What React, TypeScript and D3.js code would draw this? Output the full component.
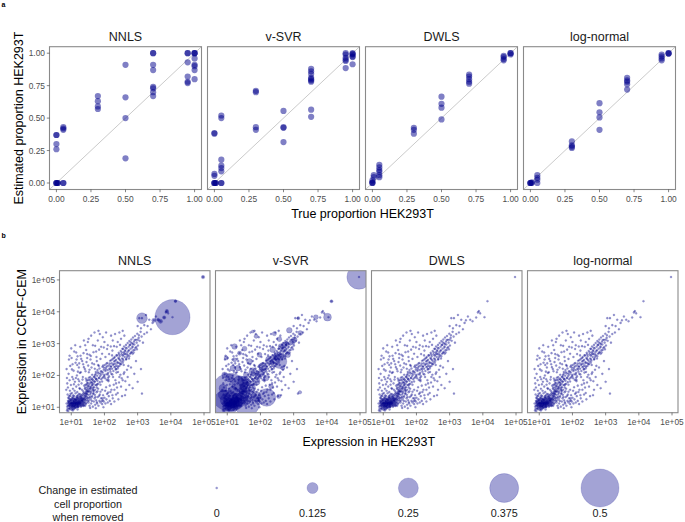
import React from "react";
import * as d3 from "d3";

const METHODS = ["NNLS", "v-SVR", "DWLS", "log-normal"];

// Panel a: [true proportion, estimated proportion]
const nnlsPts = [
  [0, 0.37], [0, 0.37], [0, 0.3], [0, 0.26], [0, 0], [0, 0], [0, 0], [0.01, 0], [0.01, 0],
  [0.05, 0.43], [0.05, 0.42], [0.05, 0.41], [0.05, 0], [0.05, 0],
  [0.3, 0.67], [0.3, 0.63], [0.3, 0.59], [0.3, 0.57],
  [0.5, 0.91], [0.5, 0.66], [0.5, 0.5], [0.5, 0.19],
  [0.7, 1], [0.7, 1], [0.7, 0.91], [0.7, 0.87], [0.7, 0.74], [0.7, 0.73], [0.7, 0.7], [0.7, 0.67],
  [0.95, 1], [0.95, 1], [0.95, 0.93], [0.95, 0.82], [0.95, 0.78], [0.95, 0.77],
  [1, 1], [1, 1], [1, 1], [1, 0.96], [1, 0.91], [1, 0.9], [1, 0.87], [1, 0.8],
];
const svrPts = [
  [0, 0.385], [0, 0.38], [0, 0.07], [0, 0.055], [0, 0], [0, 0], [0, 0], [0.01, 0], [0.01, 0],
  [0.05, 0.52], [0.05, 0.5], [0.05, 0.18], [0.05, 0.135], [0.05, 0.115], [0.05, 0.09], [0.05, 0], [0.05, 0],
  [0.3, 0.71], [0.3, 0.7], [0.3, 0.43], [0.3, 0.41],
  [0.5, 0.555], [0.5, 0.43], [0.5, 0.425], [0.5, 0.315],
  [0.7, 0.88], [0.7, 0.86], [0.7, 0.84], [0.7, 0.81], [0.7, 0.8], [0.7, 0.79], [0.7, 0.78], [0.7, 0.565], [0.7, 0.51],
  [0.95, 1], [0.95, 0.99], [0.95, 0.965], [0.95, 0.95], [0.95, 0.94], [0.95, 0.885],
  [1, 1], [1, 0.995], [1, 0.99], [1, 0.975], [1, 0.97], [1, 0.915],
];
const dwlsPts = [
  [0, 0.02], [0, 0.005], [0, 0], [0, 0], [0.01, 0.06], [0.01, 0.045],
  [0.05, 0.14], [0.05, 0.12], [0.05, 0.1], [0.05, 0.085], [0.05, 0.06], [0.05, 0.045],
  [0.3, 0.425], [0.3, 0.41], [0.3, 0.38],
  [0.5, 0.665], [0.5, 0.61], [0.5, 0.58], [0.5, 0.49],
  [0.7, 0.835], [0.7, 0.82], [0.7, 0.8], [0.7, 0.78], [0.7, 0.765],
  [0.95, 0.98], [0.95, 0.97], [0.95, 0.955], [0.95, 0.945],
  [1, 1], [1, 1], [1, 0.99],
];
const lognormPts = [
  [0, 0], [0, 0], [0, 0], [0.01, 0], [0.01, 0.005],
  [0.05, 0.06], [0.05, 0.04], [0.05, 0.025], [0.05, 0],
  [0.3, 0.32], [0.3, 0.29], [0.3, 0.28], [0.3, 0.27],
  [0.5, 0.615], [0.5, 0.545], [0.5, 0.505], [0.5, 0.41],
  [0.7, 0.81], [0.7, 0.79], [0.7, 0.78], [0.7, 0.76], [0.7, 0.72],
  [0.95, 0.99], [0.95, 0.975], [0.95, 0.96], [0.95, 0.945],
  [1, 1], [1, 1], [1, 0.995],
];
const propPanels = [nnlsPts, svrPts, dwlsPts, lognormPts];
const propTicks = [0, 0.25, 0.5, 0.75, 1];
const propTickLabels = ["0.00", "0.25", "0.50", "0.75", "1.00"];

// Panel b: genes, [log10 expression HEK293T, log10 expression CCRF-CEM]
const genesCore = [
  [0.88, 1.02], [0.92, 1.08], [0.95, 0.98], [0.97, 1.12], [1.0, 1.05], [1.02, 1.15], [1.04, 0.95], [1.05, 1.1], [1.07, 1.2], [1.08, 1.02],
  [1.1, 1.12], [1.12, 1.06], [1.13, 1.25], [1.15, 1.15], [1.17, 1.0], [1.18, 1.22], [1.2, 1.1], [1.22, 1.3], [1.24, 1.18], [1.25, 1.05],
  [1.27, 1.35], [1.28, 1.22], [1.3, 1.12], [1.32, 1.28], [1.34, 1.4], [1.35, 1.18], [1.37, 1.3], [1.4, 1.45], [1.42, 1.22], [1.45, 1.35],
  [1.47, 1.5], [1.5, 1.28], [0.86, 1.12], [0.9, 1.2], [0.93, 1.15], [0.96, 1.25], [0.99, 1.18], [1.01, 0.92], [1.03, 1.28], [1.06, 1.0],
  [1.09, 1.35], [1.11, 0.97], [1.14, 1.08], [1.16, 1.32], [1.19, 0.93], [1.21, 1.2], [1.23, 1.42], [1.26, 1.12], [1.29, 1.02], [1.31, 1.38],
  [1.33, 1.08], [1.36, 1.5], [1.38, 1.15], [1.41, 1.32], [1.44, 1.1], [1.46, 1.42], [1.49, 1.2], [0.89, 0.95], [0.94, 1.04], [0.98, 1.09],
  [1.02, 1.01], [1.06, 1.16], [1.1, 1.04], [1.14, 1.19], [1.18, 1.08], [1.22, 1.03], [1.26, 1.26], [1.3, 1.2], [1.34, 1.14], [1.38, 1.24],
  [1.42, 1.05], [1.0, 1.22], [1.04, 1.08], [1.08, 1.12], [1.12, 1.16], [1.16, 1.05], [1.2, 1.14], [0.95, 1.1], [1.11, 1.09], [1.07, 1.06],
  [1.03, 1.13], [0.99, 0.99], [1.13, 1.02], [1.17, 1.17], [1.21, 1.08], [1.25, 1.16], [0.87, 0.9], [0.91, 0.88], [1.05, 0.9],
  [0.91, 1.13], [0.93, 0.96], [0.96, 1.19], [0.97, 1.03], [1.01, 1.09], [1.03, 0.97], [1.04, 1.21], [1.06, 1.11], [1.08, 0.94], [1.09, 1.18],
  [1.11, 1.27], [1.12, 1.11], [1.14, 0.99], [1.15, 1.22], [1.17, 1.09], [1.19, 1.29], [1.2, 1.02], [1.22, 1.17], [1.23, 1.11], [1.25, 1.33],
  [1.27, 1.07], [1.28, 1.15], [1.29, 1.31], [1.31, 1.04], [1.33, 1.21], [1.35, 1.11], [1.36, 1.27], [1.38, 1.37], [1.39, 1.08], [1.41, 1.18],
  [1.43, 1.28], [1.44, 1.44], [1.46, 1.14], [1.48, 1.31], [1.51, 1.39], [1.53, 1.21], [1.56, 1.33], [1.59, 1.45], [0.98, 1.14], [1.0, 1.27],
  [1.02, 1.06], [1.05, 1.24], [1.07, 1.14], [1.09, 1.05], [1.13, 1.13], [1.16, 1.25], [1.18, 1.13], [1.21, 1.25], [1.24, 1.09], [1.26, 1.2],
  [1.3, 1.16], [1.32, 1.34], [1.35, 1.24], [1.37, 1.04], [1.4, 1.26], [0.9, 1.05], [0.94, 1.21], [1.1, 1.21], [1.19, 1.04], [1.28, 1.28],
  [0.92, 1.17], [0.95, 1.06], [0.99, 1.23], [1.01, 1.14], [1.03, 1.04], [1.06, 1.29], [1.08, 1.17], [1.1, 0.99], [1.12, 1.23], [1.15, 1.11],
  [1.17, 1.3], [1.19, 1.16], [1.21, 1.0], [1.23, 1.24], [1.26, 1.14], [1.29, 1.09], [1.31, 1.27], [1.34, 1.19], [1.37, 1.44], [1.4, 1.13],
  [1.43, 1.36], [1.46, 1.24], [1.5, 1.5], [1.54, 1.3], [0.96, 0.94], [1.0, 1.12], [1.05, 1.04], [1.09, 1.26], [1.14, 1.14], [1.18, 1.36],
  [1.22, 1.13], [1.27, 1.41], [1.32, 1.23], [1.36, 1.06], [1.41, 1.4], [0.93, 1.28], [0.97, 1.36], [1.04, 1.33], [1.13, 1.44], [1.2, 1.37],
];
const genesLow = [
  [1.52, 1.15], [1.55, 1.05], [1.58, 1.25], [1.6, 1.12], [1.63, 1.35], [1.65, 1.02], [1.68, 1.18], [1.7, 1.28], [1.72, 1.08], [1.75, 1.22],
  [1.78, 1.12], [1.8, 1.32], [1.82, 1.05], [1.85, 1.2], [1.88, 1.15], [1.9, 1.28], [1.93, 1.1], [1.95, 1.22], [1.98, 1.18], [2.0, 1.3],
  [2.03, 1.12], [2.06, 1.25], [2.1, 1.15], [2.13, 1.35], [2.16, 1.2], [2.2, 1.1], [2.25, 1.28], [2.3, 1.18], [2.35, 1.4], [2.42, 1.25],
  [1.57, 0.98], [1.66, 1.42], [1.74, 0.97], [1.86, 1.4], [1.97, 1.0], [2.08, 1.42], [2.18, 1.48], [1.62, 1.2], [1.77, 1.16], [1.92, 1.19],
  [1.61, 1.31], [1.66, 1.53], [1.71, 1.39], [1.76, 1.47], [1.81, 1.58], [1.84, 1.36], [1.88, 1.49], [1.93, 1.55], [1.96, 1.38], [2.02, 1.52],
  [2.05, 1.63], [2.11, 1.46], [2.16, 1.68], [2.21, 1.55], [2.24, 1.38], [2.28, 1.71], [2.33, 1.85], [2.38, 1.62], [2.44, 1.78], [2.48, 2.02],
  [2.52, 1.91], [2.58, 2.05], [2.63, 1.82], [2.68, 2.18], [2.12, 1.82], [2.26, 1.95], [2.41, 2.11], [1.73, 1.32], [1.94, 1.28],
];
const genesLeft = [
  [0.85, 1.55], [0.88, 1.75], [0.9, 1.62], [0.92, 2.05], [0.95, 1.85], [0.97, 2.3], [0.99, 1.7], [1.01, 2.55], [1.03, 1.95], [1.05, 1.58],
  [1.07, 2.15], [1.09, 2.75], [1.11, 1.8], [1.13, 2.4], [1.15, 1.65], [1.17, 2.0], [1.19, 2.6], [1.21, 1.88], [1.23, 2.25], [1.25, 1.6],
  [1.27, 2.9], [1.29, 2.1], [1.31, 1.75], [1.33, 2.45], [1.35, 1.95], [1.37, 2.7], [1.39, 1.68], [1.41, 2.2], [0.86, 2.2], [0.93, 2.5],
  [0.96, 1.52], [1.0, 2.85], [1.04, 2.35], [1.08, 1.72], [1.12, 2.95], [1.16, 2.5], [1.2, 2.12], [1.24, 1.82], [1.28, 2.62], [1.32, 1.55],
  [1.36, 2.35], [0.89, 1.4], [0.94, 1.35], [1.02, 1.45], [1.1, 1.52], [1.18, 1.48], [1.26, 1.58], [0.91, 1.3], [0.98, 1.42], [1.06, 1.38],
  [1.14, 1.92], [1.18, 2.33], [1.22, 1.71], [1.26, 2.08], [1.3, 2.52], [1.34, 1.87], [1.38, 2.26], [1.43, 2.13], [1.46, 2.42], [1.51, 2.31],
  [1.55, 2.18], [1.59, 2.61], [1.63, 2.38], [1.67, 2.73], [1.71, 2.21], [1.76, 2.58], [1.81, 2.33], [1.84, 2.81], [1.88, 2.52], [1.93, 2.68],
  [1.98, 2.88], [2.03, 2.58], [2.08, 2.83], [2.14, 2.67], [2.19, 2.91], [2.24, 2.78], [2.29, 2.92], [1.24, 2.38], [1.48, 2.67], [1.72, 2.93],
  [0.95, 2.62], [1.02, 2.19], [1.06, 1.88], [0.87, 1.92], [1.15, 2.72],
];
const genesDiag = [
  [1.42, 1.62], [1.45, 1.55], [1.48, 1.75], [1.5, 1.48], [1.52, 1.68], [1.54, 1.85], [1.56, 1.58], [1.58, 1.78], [1.6, 1.5], [1.62, 1.9],
  [1.64, 1.7], [1.66, 1.62], [1.68, 1.95], [1.7, 1.8], [1.72, 1.55], [1.74, 2.05], [1.76, 1.88], [1.78, 1.72], [1.8, 2.1], [1.44, 1.9],
  [1.53, 2.1], [1.61, 2.25], [1.69, 2.35], [1.77, 2.45], [1.47, 1.42], [1.57, 1.4], [1.67, 1.45], [1.79, 1.5],
  [1.41, 1.58], [1.43, 1.71], [1.44, 1.49], [1.46, 1.83], [1.47, 1.62], [1.49, 1.55], [1.5, 1.77], [1.51, 1.66], [1.53, 1.93], [1.54, 1.52],
  [1.55, 1.73], [1.57, 1.64], [1.58, 1.87], [1.59, 1.58], [1.61, 1.79], [1.62, 1.69], [1.63, 2.02], [1.65, 1.57], [1.66, 1.84], [1.67, 1.74],
  [1.69, 1.63], [1.7, 1.96], [1.71, 1.81], [1.73, 1.7], [1.74, 2.11], [1.75, 1.88], [1.77, 1.62], [1.78, 1.99], [1.79, 1.83], [1.81, 1.74],
  [1.82, 2.06], [1.83, 1.91], [1.85, 2.22], [1.86, 1.79], [1.87, 1.98], [1.89, 2.13], [1.9, 1.88], [1.91, 2.03], [1.93, 1.81], [1.94, 2.27],
  [1.95, 2.09], [1.97, 1.95], [1.98, 2.18], [1.99, 2.02], [2.01, 2.33], [2.02, 1.91], [2.03, 2.14], [2.05, 2.25], [2.06, 2.04], [2.07, 1.86],
  [2.09, 2.39], [2.1, 2.17], [2.11, 2.08], [2.13, 2.31], [2.14, 1.97], [2.15, 2.22], [2.17, 2.46], [2.18, 2.12], [2.19, 2.29], [2.21, 2.05],
  [2.22, 2.38], [2.23, 2.21], [2.25, 2.52], [2.26, 2.33], [2.27, 2.14], [2.29, 2.44], [2.3, 2.26], [2.31, 2.58], [2.33, 2.37], [2.34, 2.19],
  [2.35, 2.49], [2.37, 2.31], [2.38, 2.63], [2.39, 2.42], [2.41, 2.27], [2.42, 2.55], [2.43, 2.71], [2.45, 2.39], [2.46, 2.6], [2.47, 2.48],
  [2.49, 2.77], [2.5, 2.35], [2.51, 2.66], [2.53, 2.53], [2.54, 2.84], [2.55, 2.62], [2.57, 2.46], [2.58, 2.73], [2.59, 2.91], [2.61, 2.58],
  [2.62, 2.79], [2.63, 2.67], [2.65, 2.96], [2.66, 2.52], [2.67, 2.85], [2.69, 2.72], [2.7, 3.02], [2.71, 2.63], [2.73, 2.9], [2.74, 2.79],
  [2.75, 3.08], [2.77, 2.68], [2.78, 2.96], [2.79, 2.84], [2.81, 3.13], [2.82, 2.74], [2.83, 3.01], [2.85, 2.91], [2.86, 3.19], [2.87, 2.79],
  [2.89, 3.06], [2.9, 2.97], [2.92, 3.24], [2.93, 2.86], [2.95, 3.12], [2.97, 3.03], [2.99, 3.31], [3.01, 2.94], [3.03, 3.18], [3.06, 3.09],
  [3.09, 3.37], [3.12, 3.22], [3.16, 3.03], [3.2, 3.3], [2.35, 2.2], [2.45, 2.3], [2.55, 2.4], [2.65, 2.5], [2.75, 2.6], [2.85, 2.68],
  [2.4, 3.05], [2.5, 3.15], [2.6, 3.25], [2.37, 2.9], [2.57, 2.65],
  [1.46, 1.71], [1.52, 1.59], [1.57, 1.95], [1.63, 1.76], [1.68, 1.51], [1.73, 1.91], [1.79, 2.17], [1.84, 1.93], [1.88, 1.71], [1.92, 2.12],
  [1.96, 2.31], [2.0, 1.98], [2.04, 2.19], [2.08, 2.29], [2.11, 1.93], [2.16, 2.37], [2.2, 2.27], [2.24, 2.03], [2.28, 2.36], [2.32, 2.46],
  [2.36, 2.63], [2.4, 2.39], [2.44, 2.52], [2.48, 2.36], [2.52, 2.72], [2.56, 2.51], [2.6, 2.69], [2.64, 2.87], [2.68, 2.58], [2.72, 2.77],
  [2.76, 2.96], [2.8, 2.71], [2.84, 2.88], [2.88, 2.72], [2.91, 3.11], [2.96, 2.89], [3.0, 3.12], [3.04, 3.26], [1.49, 1.86], [1.6, 1.63],
  [1.71, 2.01], [1.83, 2.3], [1.94, 1.92], [2.06, 2.37], [2.17, 2.19], [2.29, 2.55], [2.4, 2.22], [2.51, 2.44], [2.63, 2.76], [2.74, 2.53],
  [2.86, 2.99], [2.98, 2.82], [1.55, 1.49], [1.64, 1.87], [1.76, 1.69], [1.87, 2.06], [1.99, 2.24], [2.1, 2.03], [2.21, 2.48], [2.33, 2.28],
  [2.44, 2.66], [2.56, 2.83], [2.67, 2.66], [2.79, 3.04], [2.91, 2.8], [2.23, 2.63], [2.47, 2.96], [2.12, 1.86], [2.36, 2.09], [2.58, 2.33],
];
const genesOut = [
  [1.45, 2.8], [1.5, 3.05], [1.55, 2.65], [1.6, 3.25], [1.65, 2.95], [1.7, 3.35], [1.75, 2.75], [1.8, 3.1], [1.82, 3.4], [1.86, 3.3],
  [1.9, 2.9], [1.95, 3.2], [2.0, 3.05], [2.05, 3.35], [2.1, 2.95], [2.2, 3.25], [2.25, 3.1], [2.32, 3.3], [2.45, 3.35], [2.55, 3.4],
  [1.52, 3.15], [1.48, 2.55], [1.58, 2.5], [1.38, 3.1], [1.42, 2.95],
  [2.3, 1.55], [2.35, 1.75], [2.4, 1.45], [2.45, 1.95], [2.5, 1.65], [2.55, 1.85], [2.6, 2.1], [2.65, 1.55], [2.7, 1.95], [2.75, 1.7],
  [2.8, 2.25], [2.85, 1.6], [2.9, 2.05], [3.0, 1.8], [3.13, 1.43], [2.53, 1.35], [2.72, 2.3], [2.95, 2.45], [3.1, 2.2], [2.62, 1.38],
  [3.0, 3.55], [3.05, 3.8], [3.1, 3.48], [3.13, 3.8], [3.2, 3.58], [3.25, 3.9], [3.3, 3.55], [3.35, 3.75], [3.45, 3.65], [3.49, 3.73],
  [3.55, 3.85], [3.62, 3.75], [3.69, 3.7], [3.8, 3.82], [3.85, 3.98], [3.88, 4.02], [3.92, 3.95], [4.05, 3.83], [4.14, 4.33], [4.97, 5.09],
  [3.4, 3.45], [3.28, 3.35],
];
const genes = [...genesCore, ...genesLow, ...genesLeft, ...genesDiag, ...genesOut];

// Genes with a visible change in estimated proportion when removed: [log10 HEK, log10 CCRF, change]
const nnlsBubbles = [
  [4.05, 3.83, 0.46], [3.13, 3.8, 0.12], [3.49, 3.73, 0.03], [3.69, 3.7, 0.03], [3.8, 3.82, 0.02],
  [3.88, 4.02, 0.02], [4.14, 4.33, 0.01], [4.97, 5.09, 0.02], [3.62, 3.75, 0.015],
];
const svrBubbles = [
  [4.97, 5.09, 0.31],
  [1.08, 1.47, 0.5], [0.96, 1.13, 0.33], [1.59, 1.13, 0.33], [2.19, 1.31, 0.22], [2.58, 2.44, 0.17], [1.38, 1.73, 0.2],
  [1.22, 2.91, 0.05], [1.52, 2.84, 0.04], [2.42, 3.31, 0.03], [2.57, 3.14, 0.04], [2.87, 3.42, 0.05], [3.02, 3.12, 0.05],
  [3.2, 3.33, 0.04], [3.67, 3.83, 0.04], [4.02, 3.83, 0.08], [4.14, 4.33, 0.015], [3.14, 3.8, 0.015], [2.55, 1.34, 0.03],
  [3.19, 1.47, 0.02], [2.72, 2.81, 0.04], [1.87, 3.23, 0.03], [1.77, 3.38, 0.015], [0.97, 2.55, 0.03], [1.32, 2.23, 0.05],
  [2.37, 2.81, 0.05], [2.72, 2.96, 0.05], [2.27, 2.49, 0.08], [2.52, 2.6, 0.08], [2.07, 2.28, 0.08], [1.77, 2.12, 0.08],
  [1.57, 2.02, 0.05], [1.47, 1.81, 0.11], [1.17, 2.23, 0.05], [1.07, 1.92, 0.08], [1.87, 1.81, 0.08], [2.17, 1.92, 0.05],
  [1.67, 2.44, 0.05], [1.97, 2.65, 0.04], [1.37, 2.7, 0.03], [1.22, 2.49, 0.03], [0.92, 2.02, 0.05], [2.32, 1.65, 0.04],
  [2.67, 2.23, 0.03], [2.82, 2.65, 0.05], [2.97, 3.02, 0.03], [2.62, 2.91, 0.05],
  [0.88, 1.39, 0.11], [0.97, 1.23, 0.14], [1.27, 1.13, 0.14], [1.57, 1.23, 0.11], [1.87, 1.34, 0.11], [1.17, 1.5, 0.11],
  [1.47, 1.55, 0.08], [0.87, 1.6, 0.08], [1.3, 1.3, 0.1], [1.75, 1.6, 0.07], [2.0, 2.05, 0.06], [1.12, 1.05, 0.12],
  [2.35, 2.4, 0.03], [2.45, 2.55, 0.04], [2.1, 2.15, 0.03], [1.9, 2.0, 0.04], [1.65, 1.75, 0.05], [2.8, 3.0, 0.03],
];
const bubblesByMethod = [nnlsBubbles, svrBubbles, [], []];

const exprTicks = [1e1, 1e2, 1e3, 1e4, 1e5];
const exprTickLabels = ["1e+01", "1e+02", "1e+03", "1e+04", "1e+05"];

const legendValues = [0, 0.125, 0.25, 0.375, 0.5];
const legendLabels = ["0", "0.125", "0.25", "0.375", "0.5"];
const legendTitle = ["Change in estimated", "cell proportion", "when removed"];

const FONT = "'Liberation Sans', Arial, Helvetica, sans-serif";
const COL = "#00008B";
const BORDER = "#8a8a8a";
const TICKCOL = "#4d4d4d";

export default function App() {
  const W = 685;
  const H = 522;

  const aW = 152, aGap = 6, aLeft0 = 49.5, aTop = 46.7, aBottom = 189.5;
  const bW = 150.5, bGap = 5.5, bLeft0 = 59.5, bTop = 270.7, bBottom = 412.7;

  const rScale = d3.scaleLinear().domain([0, 0.5]).range([1.05, 19]);

  const yA = d3.scaleLinear().domain([-0.05, 1.05]).range([aBottom, aTop]);
  const yB = d3.scaleLog().domain([Math.pow(10, 0.83), Math.pow(10, 5.29)]).range([bBottom, bTop]);

  const panelsA = METHODS.map((m, i) => {
    const left = aLeft0 + i * (aW + aGap);
    const x = d3.scaleLinear().domain([-0.05, 1.05]).range([left, left + aW]);
    const pts = propPanels[i];
    const clipId = `clipA${i}`;
    return (
      <g key={`a${i}`}>
        <clipPath id={clipId}>
          <rect x={left} y={aTop} width={aW} height={aBottom - aTop} />
        </clipPath>
        <g clipPath={`url(#${clipId})`}>
          <line x1={x(-0.05)} y1={yA(-0.05)} x2={x(1.05)} y2={yA(1.05)} stroke="#bdbdbd" strokeWidth={0.8} />
          {pts.map((p, j) => (
            <circle key={j} cx={x(p[0])} cy={yA(p[1])} r={3.1} fill={COL} fillOpacity={0.5} />
          ))}
        </g>
        <rect x={left} y={aTop} width={aW} height={aBottom - aTop} fill="none" stroke={BORDER} strokeWidth={1.1} />
        <text x={left + aW / 2} y={aTop - 6} textAnchor="middle" fontSize={12.5} fill="#1a1a1a">{m}</text>
        {propTicks.map((t, k) => (
          <g key={k}>
            <line x1={x(t)} x2={x(t)} y1={aBottom} y2={aBottom + 2.7} stroke="#333" strokeWidth={0.6} />
            <text x={x(t)} y={aBottom + 12.3} textAnchor="middle" fontSize={8.4} fill={TICKCOL}>{propTickLabels[k]}</text>
          </g>
        ))}
      </g>
    );
  });

  const yAxisA = (
    <g>
      {propTicks.map((t, k) => (
        <g key={k}>
          <line x1={aLeft0 - 2.7} x2={aLeft0} y1={yA(t)} y2={yA(t)} stroke="#333" strokeWidth={0.6} />
          <text x={aLeft0 - 4.5} y={yA(t) + 3} textAnchor="end" fontSize={8.4} fill={TICKCOL}>{propTickLabels[k]}</text>
        </g>
      ))}
    </g>
  );

  const panelsB = METHODS.map((m, i) => {
    const left = bLeft0 + i * (bW + bGap);
    const x = d3.scaleLog().domain([Math.pow(10, 0.646), Math.pow(10, 5.18)]).range([left, left + bW]);
    const clipId = `clipB${i}`;
    const bubbles = bubblesByMethod[i];
    return (
      <g key={`b${i}`}>
        <clipPath id={clipId}>
          <rect x={left} y={bTop} width={bW} height={bBottom - bTop} />
        </clipPath>
        <g clipPath={`url(#${clipId})`}>
          {genes.map((g, j) => (
            <circle key={j} cx={x(Math.pow(10, g[0]))} cy={yB(Math.pow(10, g[1]))} r={rScale(0)}
              fill={COL} fillOpacity={0.42} stroke={COL} strokeOpacity={0.3} strokeWidth={0.4} />
          ))}
          {bubbles.map((g, j) => (
            <circle key={`bb${j}`} cx={x(Math.pow(10, g[0]))} cy={yB(Math.pow(10, g[1]))} r={rScale(g[2])}
              fill={COL} fillOpacity={0.36} stroke={COL} strokeOpacity={0.25} strokeWidth={0.6} />
          ))}
        </g>
        <rect x={left} y={bTop} width={bW} height={bBottom - bTop} fill="none" stroke={BORDER} strokeWidth={1.1} />
        <text x={left + bW / 2} y={bTop - 6} textAnchor="middle" fontSize={12.5} fill="#1a1a1a">{m}</text>
        {exprTicks.map((t, k) => (
          <g key={k}>
            <line x1={x(t)} x2={x(t)} y1={bBottom} y2={bBottom + 2.7} stroke="#333" strokeWidth={0.6} />
            <text x={x(t)} y={bBottom + 12.3} textAnchor="middle" fontSize={8.3} fill={TICKCOL}>{exprTickLabels[k]}</text>
          </g>
        ))}
      </g>
    );
  });

  const yAxisB = (
    <g>
      {exprTicks.map((t, k) => (
        <g key={k}>
          <line x1={bLeft0 - 2.7} x2={bLeft0} y1={yB(t)} y2={yB(t)} stroke="#333" strokeWidth={0.6} />
          <text x={bLeft0 - 4.5} y={yB(t) + 3} textAnchor="end" fontSize={8.3} fill={TICKCOL}>{exprTickLabels[k]}</text>
        </g>
      ))}
    </g>
  );

  const aCenterX = aLeft0 + (4 * aW + 3 * aGap) / 2;
  const bCenterX = bLeft0 + (4 * bW + 3 * bGap) / 2;

  const legendX = d3.scalePoint<number>().domain(legendValues).range([216.7, 600]);
  const legendY = 488;

  return (
    <svg width={W} height={H} viewBox={`0 0 ${W} ${H}`} style={{ position: "absolute", left: 0, top: 0, background: "#fff" }} fontFamily={FONT}>
      <rect x={0} y={0} width={W} height={H} fill="#fff" />
      <text x={1.5} y={6.5} fontSize={7} fontWeight="bold" fill="#000">a</text>
      <text x={1.5} y={238} fontSize={7} fontWeight="bold" fill="#000">b</text>

      {panelsA}
      {yAxisA}
      <text transform={`translate(22.5,${(aTop + aBottom) / 2}) rotate(-90)`} textAnchor="middle" fontSize={12.5} fill="#000">Estimated proportion HEK293T</text>
      <text x={aCenterX} y={218} textAnchor="middle" fontSize={12.5} fill="#000">True proportion HEK293T</text>

      {panelsB}
      {yAxisB}
      <text transform={`translate(26,${(bTop + bBottom) / 2}) rotate(-90)`} textAnchor="middle" fontSize={12.5} fill="#000">Expression in CCRF-CEM</text>
      <text x={bCenterX} y={445.5} textAnchor="middle" fontSize={12.5} fill="#000">Expression in HEK293T</text>

      {legendTitle.map((t, k) => (
        <text key={k} x={88} y={494 + k * 13.5} textAnchor="middle" fontSize={10.8} fill="#1a1a1a">{t}</text>
      ))}
      {legendValues.map((v, k) => (
        <g key={k}>
          <circle cx={legendX(v)} cy={legendY} r={rScale(v)} fill={COL} fillOpacity={0.36} stroke={COL} strokeOpacity={0.25} strokeWidth={0.6} />
          <text x={legendX(v)} y={517} textAnchor="middle" fontSize={10.8} fill="#1a1a1a">{legendLabels[k]}</text>
        </g>
      ))}
    </svg>
  );
}
